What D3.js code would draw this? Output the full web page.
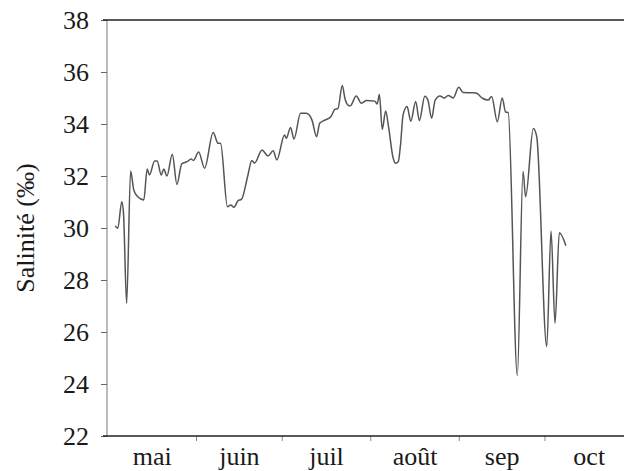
<!DOCTYPE html>
<html>
<head>
<meta charset="utf-8">
<script src="https://cdn.jsdelivr.net/npm/d3@7"></script>
<style>
  body { margin: 0; background: #fff; }
</style>
</head>
<body>
<div id="chart"></div>
<script>
// month labels (x axis) and y ticks
const months = ["mai", "juin", "juil", "août", "sep", "oct"];
const yTicks = [22, 24, 26, 28, 30, 32, 34, 36, 38];

// days since 1 May, salinity (‰)
const days = [2.7, 3.6, 5.0, 5.6, 6.7, 8.1, 9.2, 10.6, 12.7, 13.9, 14.7, 16.5, 17.4, 18.8, 19.7, 20.8,
  22.7, 24.3, 26.0, 27.9, 29.3, 30.1, 31.9, 34.0, 37.0, 38.7, 39.6, 42.0, 43.1, 44.3, 45.7, 46.9,
  49.1, 50.5, 51.5, 54.1, 56.2, 58.0, 59.3, 62.0, 62.6, 64.1, 65.3, 67.6, 69.6, 71.6, 73.2, 74.3,
  76.1, 78.2, 79.6, 80.7, 82.2, 83.2, 84.2, 85.0, 87.1, 88.9, 90.7, 93.6, 94.4, 95.2, 96.2, 97.4,
  98.4, 100.0, 100.9, 101.8, 102.6, 103.5, 104.9, 106.2, 107.9, 109.2, 111.1, 112.2, 113.5, 114.7,
  116.4, 117.9, 119.3, 121.0, 123.0, 124.5, 128.3, 129.3, 131.3, 133.3, 134.5, 136.5, 138.2, 139.4,
  140.3, 143.5, 145.5, 146.4, 149.1, 150.3, 153.8, 155.3, 156.7, 158.2, 160.5];
const salinity = [30.08, 29.99, 31.01, 30.57, 27.1, 32.19, 31.46, 31.2, 31.08, 32.27, 32.04, 32.58, 32.58, 32.04, 32.27, 32.0,
  32.84, 31.68, 32.47, 32.55, 32.65, 32.6, 32.92, 32.3, 33.67, 33.26, 33.25, 30.82, 30.88, 30.8, 31.05, 31.1,
  32.0, 32.6, 32.5, 33.0, 32.77, 32.97, 32.62, 33.58, 33.45, 33.87, 33.42, 34.41, 34.41, 34.15, 33.51, 34.03,
  34.15, 34.28, 34.56, 34.6, 35.48, 34.95, 34.73, 34.7, 35.08, 34.8, 34.9, 34.88, 34.77, 35.13, 33.8, 34.5,
  33.9, 32.7, 32.49, 32.55, 33.2, 34.35, 34.67, 34.11, 34.87, 34.13, 35.07, 34.91, 34.22, 34.91,
  35.08, 35.0, 35.1, 35.0, 35.41, 35.21, 35.2, 35.18, 34.99, 34.92, 35.06, 34.09, 35.0, 34.46,
  34.44, 24.33, 32.17, 31.2, 33.83, 33.51, 25.44, 29.88, 26.33, 29.82, 29.32];

const width = 624;
const height = 471;
const margin = { top: 20, left: 107, bottom: 436 };
const serif = "Liberation Serif";
const fontSize = 26;

const start = new Date(2000, 4, 1);
const end = new Date(2000, 10, 1);
const toDate = d => new Date(start.getTime() + d * 864e5);

const data = days.map((d, i) => ({ date: toDate(d), value: salinity[i] }));

const svg = d3.select("#chart").append("svg")
    .attr("width", width)
    .attr("height", height);

const x = d3.scaleTime()
    .domain([start, end])
    .range([margin.left + 0.5, 633]);

const y = d3.scaleLinear()
    .domain([22, 38])
    .range([margin.bottom, margin.top]);

// month boundaries and mid-month label positions
const monthStarts = d3.timeMonth.range(start, end);
const monthMids = monthStarts.map(m => new Date((m.getTime() + d3.timeMonth.offset(m, 1).getTime()) / 2));

// y axis
const yAxis = d3.axisLeft(y)
    .tickValues(yTicks)
    .tickSize(6)
    .tickPadding(12)
    .tickFormat(d3.format("d"));

const gy = svg.append("g")
    .attr("transform", `translate(${margin.left},0)`)
    .call(yAxis);
gy.select(".domain").remove();
gy.selectAll(".tick line").attr("stroke", "#666").attr("stroke-width", 1);
gy.selectAll(".tick text")
    .attr("font-family", serif)
    .attr("font-size", fontSize)
    .attr("fill", "#1a1a1a")
    .attr("dy", "0.34em");

svg.append("line")
    .attr("x1", margin.left).attr("x2", margin.left)
    .attr("y1", margin.top).attr("y2", margin.bottom)
    .attr("stroke", "#777")
    .attr("stroke-width", 1);

// x axis: ticks at month starts, labels mid-month
const gx = svg.append("g")
    .attr("transform", `translate(0,${margin.bottom})`)
    .call(d3.axisBottom(x).tickValues(monthStarts.slice(1)).tickSize(5).tickFormat(""));
gx.select(".domain").remove();
gx.selectAll(".tick line").attr("stroke", "#888");

const gxl = svg.append("g")
    .attr("transform", `translate(0,${margin.bottom})`)
    .call(d3.axisBottom(x).tickValues(monthMids).tickSize(0)
        .tickFormat((d, i) => months[i]));
gxl.select(".domain").remove();
gxl.selectAll(".tick text")
    .attr("font-family", serif)
    .attr("font-size", fontSize)
    .attr("fill", "#1a1a1a")
    .attr("y", 29)
    .attr("dy", 0);

// top and bottom frame lines
svg.append("line")
    .attr("x1", margin.left - 4).attr("x2", width)
    .attr("y1", margin.top).attr("y2", margin.top)
    .attr("stroke", "#222").attr("stroke-width", 1.3);

svg.append("line")
    .attr("x1", margin.left - 4).attr("x2", width)
    .attr("y1", margin.bottom).attr("y2", margin.bottom)
    .attr("stroke", "#222").attr("stroke-width", 1.3);

// salinity series
const line = d3.line()
    .x(d => x(d.date))
    .y(d => y(d.value))
    .curve(d3.curveMonotoneX);

svg.append("path")
    .datum(data)
    .attr("fill", "none")
    .attr("stroke", "#555")
    .attr("stroke-width", 1.5)
    .attr("d", line);

// y label
svg.append("text")
    .attr("transform", `translate(34,${(margin.top + margin.bottom) / 2}) rotate(-90)`)
    .attr("text-anchor", "middle")
    .attr("font-family", serif)
    .attr("font-size", fontSize)
    .attr("fill", "#1a1a1a")
    .text("Salinité (‰)");
</script>
</body>
</html>
